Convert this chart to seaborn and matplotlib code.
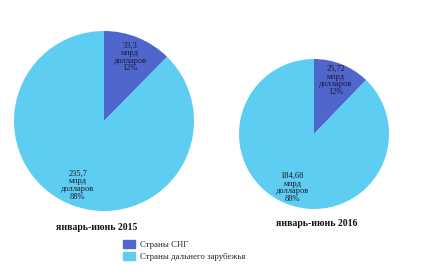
import seaborn as sns
import matplotlib.pyplot as plt
import matplotlib.patches as mpatches
import numpy as np

# data
periods = ["январь-июнь 2015", "январь-июнь 2016"]
categories = ["Страны СНГ", "Страны дальнего зарубежья"]
values_2015 = [33.3, 235.7]
values_2016 = [25.72, 184.68]
value_labels_2015 = ["33,3", "235,7"]
value_labels_2016 = ["25,72", "184,68"]
pct_2015 = [12, 88]
pct_2016 = [12, 88]

colors = ["#4F66CD", "#5DCDF2"]


def draw_pie(ax, values, vlabels, pcts):
    wedges, _ = ax.pie(values, colors=colors, startangle=90, counterclock=False,
                       wedgeprops={"linewidth": 0})
    ax.set_xlim(-1, 1)
    ax.set_ylim(-1, 1)
    for w, vl, p in zip(wedges, vlabels, pcts):
        a = np.deg2rad((w.theta1 + w.theta2) / 2)
        ax.text(0.77 * np.cos(a), 0.77 * np.sin(a), f"{vl}\nмлрд\nдолларов\n{p}%",
                ha="center", va="center", fontsize=6, linespacing=0.95,
                family="Liberation Serif", color="#1a1a2a")
    return wedges


def main():
    sns.set_theme(style="white")
    plt.rcParams["font.family"] = ["Liberation Serif", "DejaVu Serif"]

    fig = plt.figure(figsize=(4.3, 2.77), dpi=100, facecolor="white")
    ax1 = fig.add_axes([14 / 430, 66 / 277, 180 / 430, 180 / 277])
    ax2 = fig.add_axes([239 / 430, 68 / 277, 150 / 430, 150 / 277])

    draw_pie(ax1, values_2015, value_labels_2015, pct_2015)
    draw_pie(ax2, values_2016, value_labels_2016, pct_2016)

    fig.text(97 / 430, 1 - 228 / 277, periods[0], ha="center", va="center",
             fontsize=7, fontweight="bold", color="#111111")
    fig.text(317 / 430, 1 - 224 / 277, periods[1], ha="center", va="center",
             fontsize=7, fontweight="bold", color="#111111")

    handles = [mpatches.Patch(color=c) for c in colors]
    fig.legend(handles, categories, loc="upper left",
               bbox_to_anchor=(123 / 430, 1 - 240 / 277), frameon=False,
               fontsize=6.3, handlelength=1.4, handleheight=1.0,
               handletextpad=0.5, labelspacing=0.35, borderpad=0,
               borderaxespad=0)

    fig.savefig("out.png", dpi=100, facecolor="white")
    plt.close(fig)


if __name__ == "__main__":
    main()
